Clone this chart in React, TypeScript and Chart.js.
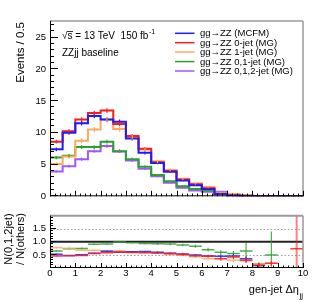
import { useEffect, useRef } from "react";
import { Chart, registerables } from "chart.js";

Chart.register(...registerables);

// ---------------- data ----------------
const binLow = [0, 0.5, 1, 1.5, 2, 2.5, 3, 3.5, 4, 4.5, 5, 5.5, 6, 6.5, 7, 7.5, 8, 8.5, 9, 9.5];
const binWidth = 0.5;
const xRange = [0, 10];
const topYMax = 27.6;
const topMajorTicks = [0, 5, 10, 15, 20, 25];
const ratioTicks = [0.5, 1, 1.5];
const xTickLabels = [0, 1, 2, 3, 4, 5, 6, 7, 8, 9, 10];

const seriesLabels = [
  "gg→ZZ (MCFM)",
  "gg→ZZ 0-jet (MG)",
  "gg→ZZ 1-jet (MG)",
  "gg→ZZ 0,1-jet (MG)",
  "gg→ZZ 0,1,2-jet (MG)",
];
const seriesColors = ["#1c1cff", "#ff1a1a", "#ffa860", "#2aa12a", "#a157ff"];

const mcfm = [7.4, 10.0, 11.5, 12.65, 12.1, 11.75, 9.1, 6.85, 5.25, 3.85, 2.5, 1.75, 1.15, 0.35, 0.12, 0.06, 0.03, 0.02, 0.01, 0.01];
const jet0 = [8.6, 10.25, 12.1, 13.1, 13.5, 11.4, 9.5, 7.5, 5.35, 4.0, 2.65, 1.9, 1.25, 0.4, 0.15, 0.08, 0.04, 0.02, 0.01, 0.01];
const jet1 = [5.1, 6.25, 8.75, 10.5, 12.1, 10.6, 9.3, 7.35, 5.5, 4.15, 2.75, 2.0, 1.45, 0.55, 0.35, 0.15, 0.06, 0.03, 0.01, 0.01];
const jet01 = [6.1, 6.4, 7.75, 7.75, 8.6, 7.1, 5.85, 4.65, 3.35, 2.35, 1.6, 1.15, 0.9, 0.45, 0.15, 0.08, 0.03, 0.02, 0.01, 0];
const jet012 = [3.9, 4.75, 5.85, 7.1, 7.9, 7.05, 5.65, 4.35, 3.15, 2.15, 1.35, 0.9, 0.7, 0.7, 0.1, 0.05, 0.02, 0.01, 0, 0];

const mcfmErr = [0.3, 0.3, 0.35, 0.35, 0.35, 0.35, 0.3, 0.25, 0.22, 0.2, 0.15, 0.12, 0.1, 0.06, 0.04, 0.03, 0.02, 0.01, 0.01, 0.01];
const jet0Err = [0.3, 0.3, 0.35, 0.35, 0.35, 0.35, 0.3, 0.25, 0.22, 0.2, 0.15, 0.12, 0.1, 0.06, 0.04, 0.03, 0.02, 0.01, 0.01, 0.01];
const jet1Err = [0.3, 0.3, 0.4, 0.4, 0.4, 0.4, 0.35, 0.3, 0.25, 0.22, 0.18, 0.15, 0.12, 0.08, 0.06, 0.04, 0.02, 0.01, 0.01, 0.01];
const jet01Err = [0.25, 0.25, 0.3, 0.3, 0.3, 0.3, 0.25, 0.22, 0.18, 0.15, 0.12, 0.1, 0.08, 0.06, 0.04, 0.03, 0.02, 0.01, 0.01, 0];
const jet012Err = [0.2, 0.22, 0.25, 0.25, 0.28, 0.25, 0.22, 0.2, 0.16, 0.14, 0.1, 0.08, 0.07, 0.06, 0.03, 0.02, 0.01, 0.01, 0, 0];

// ratio N(0,1,2jet) / N(others)
const ratioMcfm = [0.53, 0.48, 0.51, 0.56, 0.64, 0.6, 0.62, 0.63, 0.6, 0.56, 0.54, 0.5, 0.46, 0.45, 0.46, 0.35, 0.1, null, null, null];
const ratioJet0 = [0.46, 0.47, 0.48, 0.55, 0.58, 0.61, 0.59, 0.58, 0.57, 0.55, 0.52, 0.47, 0.45, 0.35, 0.42, 0.3, 0.1, 0.18, null, 0.74];
const ratioJet1 = [0.77, 0.76, 0.68, 0.68, 0.65, 0.66, 0.61, 0.59, 0.57, 0.52, 0.49, 0.43, 0.35, 0.36, 0.3, 0.28, 0.14, 0.18, null, null];
const ratioJet01 = [0.65, 0.74, 0.75, 0.91, 0.92, 0.99, 0.97, 0.94, 0.93, 0.92, 0.88, 0.83, 0.7, 0.6, 0.55, 0.65, 0.15, 0.5, null, null];

const ratioMcfmErr = [0.02, 0.02, 0.02, 0.02, 0.02, 0.02, 0.02, 0.02, 0.03, 0.03, 0.04, 0.04, 0.05, 0.06, 0.08, 0.1, 0.08, null, null, null];
const ratioJet0Err = [0.02, 0.02, 0.02, 0.02, 0.02, 0.02, 0.02, 0.02, 0.03, 0.03, 0.04, 0.04, 0.05, 0.06, 0.08, 0.1, 0.1, 0.1, null, 1.4];
const ratioJet1Err = [0.02, 0.02, 0.02, 0.02, 0.02, 0.02, 0.02, 0.02, 0.03, 0.03, 0.04, 0.04, 0.05, 0.06, 0.08, 0.1, 0.1, 0.12, null, null];
const ratioJet01Err = [0.03, 0.03, 0.03, 0.03, 0.03, 0.03, 0.03, 0.03, 0.04, 0.05, 0.05, 0.06, 0.07, 0.08, 0.1, 0.32, 0.06, 0.9, null, null];

// ---------------- helpers ----------------
const FONT = "'Liberation Sans', Arial, Helvetica, sans-serif";

function histPoints(values: number[]) {
  const pts = binLow.map((b, i) => ({ x: b, y: values[i] }));
  pts.push({ x: binLow[binLow.length - 1] + binWidth, y: values[values.length - 1] });
  return pts;
}

function ratioPoints(values: (number | null)[], errs: (number | null)[]) {
  const pts: any[] = [];
  binLow.forEach((b, i) => {
    if (values[i] !== null && values[i] !== undefined) {
      pts.push({ x: b + binWidth / 2, y: values[i], e: errs[i] ?? 0 });
    }
  });
  return pts;
}

function line(ctx: CanvasRenderingContext2D, x1: number, y1: number, x2: number, y2: number) {
  ctx.beginPath();
  ctx.moveTo(x1, y1);
  ctx.lineTo(x2, y2);
  ctx.stroke();
}

function drawXTicks(chart: any, major: number, minor: number) {
  const { ctx, chartArea } = chart;
  const xs = chart.scales.x;
  ctx.save();
  ctx.strokeStyle = "#000";
  ctx.lineWidth = 1;
  for (let k = 0; k <= 50; k++) {
    const v = xRange[0] + k * 0.2;
    const px = Math.round(xs.getPixelForValue(v)) + 0.5;
    const len = k % 5 === 0 ? major : minor;
    line(ctx, px, chartArea.bottom, px, chartArea.bottom - len);
  }
  ctx.restore();
}

// ---------------- plugins ----------------
const topPlugin = {
  id: "topDecor",
  afterDatasetsDraw(chart: any) {
    const { ctx, chartArea } = chart;
    const xs = chart.scales.x;
    const ys = chart.scales.y;
    ctx.save();
    ctx.beginPath();
    ctx.rect(chartArea.left, chartArea.top, chartArea.right - chartArea.left, chartArea.bottom - chartArea.top);
    ctx.clip();
    chart.data.datasets.forEach((ds: any) => {
      ctx.strokeStyle = ds.borderColor;
      ctx.lineWidth = 1.2;
      ds.errors.forEach((e: number, i: number) => {
        const v = ds.values[i];
        if (!e) return;
        const cx = xs.getPixelForValue(binLow[i] + binWidth / 2);
        line(ctx, cx, ys.getPixelForValue(v - e), cx, ys.getPixelForValue(v + e));
      });
    });
    ctx.restore();
  },
  afterDraw(chart: any) {
    const { ctx, chartArea } = chart;
    const ys = chart.scales.y;
    const { left, right, top, bottom } = chartArea;
    ctx.save();
    ctx.strokeStyle = "#9a9a9a";
    ctx.lineWidth = 1.5;
    line(ctx, left, top, right, top);
    line(ctx, right, top, right, bottom);
    ctx.strokeStyle = "#000";
    ctx.lineWidth = 1;
    line(ctx, left + 0.5, top, left + 0.5, bottom);
    line(ctx, left, bottom - 0.5, right, bottom - 0.5);
    for (let v = 0; v <= topYMax; v += 1) {
      const py = Math.round(ys.getPixelForValue(v)) - 0.5;
      const len = topMajorTicks.includes(v) ? 8 : 4;
      line(ctx, left, py, left + len, py);
    }
    ctx.restore();
    drawXTicks(chart, 5.5, 2.75);

    ctx.save();
    ctx.fillStyle = "#000";
    ctx.textBaseline = "alphabetic";
    ctx.textAlign = "left";
    ctx.font = `10px ${FONT}`;
    const t1 = "√s = 13 TeV  150 fb";
    ctx.fillText(t1, 62, 39);
    const w1 = ctx.measureText(t1).width;
    const wRoot = ctx.measureText("√").width;
    const wS = ctx.measureText("s").width;
    ctx.strokeStyle = "#000";
    ctx.lineWidth = 0.8;
    line(ctx, 62 + wRoot - 0.5, 31.5, 62 + wRoot + wS + 0.5, 31.5);
    ctx.font = `7px ${FONT}`;
    ctx.fillText("-1", 62 + w1 + 0.5, 34);
    ctx.font = `10px ${FONT}`;
    ctx.fillText("ZZjj baseline", 62, 56);

    ctx.save();
    ctx.font = `11.5px ${FONT}`;
    ctx.translate(21, 22);
    ctx.rotate(-Math.PI / 2);
    ctx.textAlign = "right";
    ctx.textBaseline = "middle";
    ctx.fillText("Events / 0.5", 0, 0);
    ctx.restore();

    ctx.font = `9.5px ${FONT}`;
    ctx.textBaseline = "middle";
    const rows = [33.3, 42.7, 52, 61.6, 71];
    chart.data.datasets.forEach((ds: any, i: number) => {
      ctx.strokeStyle = ds.borderColor;
      ctx.lineWidth = 1.5;
      line(ctx, 175, rows[i], 194.5, rows[i]);
      ctx.fillStyle = "#000";
      ctx.fillText(ds.label, 200, rows[i] + 0.5);
    });
    ctx.restore();
  },
};

const ratioPlugin = {
  id: "ratioDecor",
  beforeDatasetsDraw(chart: any) {
    const { ctx, chartArea } = chart;
    const ys = chart.scales.y;
    const { left, right } = chartArea;
    ctx.save();
    ctx.strokeStyle = "#a0a0a0";
    ctx.lineWidth = 1;
    ctx.setLineDash([1.5, 2]);
    [0.5, 1.5].forEach((v) => {
      const py = Math.round(ys.getPixelForValue(v)) + 0.5;
      line(ctx, left, py, right, py);
    });
    ctx.setLineDash([]);
    ctx.strokeStyle = "#222";
    ctx.lineWidth = 2;
    const p1 = ys.getPixelForValue(1);
    line(ctx, left, p1, right, p1);
    ctx.restore();
  },
  afterDatasetsDraw(chart: any) {
    const { ctx, chartArea } = chart;
    const xs = chart.scales.x;
    const ys = chart.scales.y;
    ctx.save();
    ctx.beginPath();
    ctx.rect(chartArea.left, chartArea.top, chartArea.right - chartArea.left, chartArea.bottom - chartArea.top);
    ctx.clip();
    const order = [3, 2, 0, 1];
    order.forEach((di) => {
      const ds: any = chart.data.datasets[di];
      ds.data.forEach((p: any) => {
        const cx = xs.getPixelForValue(p.x);
        const cy = ys.getPixelForValue(p.y);
        ctx.strokeStyle = ds.borderColor;
        ctx.globalAlpha = 0.85;
        ctx.lineWidth = 1.5;
        line(ctx, xs.getPixelForValue(p.x - binWidth / 2), cy, xs.getPixelForValue(p.x + binWidth / 2), cy);
        if (p.e) {
          ctx.globalAlpha = p.e > 1 ? 0.55 : 0.85;
          ctx.lineWidth = p.e > 1 ? 2 : 1.2;
          line(ctx, cx, ys.getPixelForValue(p.y - p.e), cx, ys.getPixelForValue(p.y + p.e));
        }
      });
    });
    ctx.restore();
  },
  afterDraw(chart: any) {
    const { ctx, chartArea } = chart;
    const ys = chart.scales.y;
    const { left, right, top, bottom } = chartArea;
    ctx.save();
    ctx.strokeStyle = "#9a9a9a";
    ctx.lineWidth = 2;
    line(ctx, left, top, right, top);
    ctx.lineWidth = 1.5;
    line(ctx, right, top, right, bottom);
    ctx.strokeStyle = "#000";
    ctx.lineWidth = 1;
    line(ctx, left + 0.5, top, left + 0.5, bottom);
    ctx.lineWidth = 1.2;
    line(ctx, left, bottom - 0.5, right, bottom - 0.5);
    ctx.lineWidth = 1;
    for (let k = 1; k < 20; k++) {
      const v = k * 0.1;
      const py = Math.round(ys.getPixelForValue(v)) - 0.5;
      const len = k % 5 === 0 ? 6 : 3;
      line(ctx, left, py, left + len, py);
    }
    ctx.restore();
    drawXTicks(chart, 5, 2.5);

    ctx.save();
    ctx.fillStyle = "#000";
    ctx.font = `11px ${FONT}`;
    ctx.textAlign = "center";
    ctx.textBaseline = "middle";
    [["N(0,1,2jet)", 9], ["/ N(others)", 21]].forEach(([t, x]) => {
      ctx.save();
      ctx.translate(x as number, 33);
      ctx.rotate(-Math.PI / 2);
      ctx.fillText(t as string, 0, 0);
      ctx.restore();
    });
    ctx.textBaseline = "alphabetic";
    ctx.textAlign = "left";
    ctx.font = `8px ${FONT}`;
    const wSub = ctx.measureText("jj").width;
    ctx.font = `11px ${FONT}`;
    const main = "gen-jet Δη";
    const wMain = ctx.measureText(main).width;
    const x0 = 303 - wSub - wMain - 0.5;
    ctx.fillText(main, x0, 87);
    ctx.font = `8px ${FONT}`;
    ctx.fillText("jj", x0 + wMain + 0.5, 91.5);
    ctx.restore();
  },
};

// ---------------- component ----------------
export default function App() {
  const topRef = useRef<HTMLCanvasElement>(null);
  const botRef = useRef<HTMLCanvasElement>(null);

  useEffect(() => {
    const topValues = [mcfm, jet0, jet1, jet01, jet012];
    const topErrs = [mcfmErr, jet0Err, jet1Err, jet01Err, jet012Err];
    const top = new Chart(topRef.current!, {
      type: "line",
      data: {
        datasets: topValues.map((vals, i) => ({
          label: seriesLabels[i],
          data: histPoints(vals),
          values: vals,
          errors: topErrs[i],
          borderColor: seriesColors[i],
          borderWidth: 2,
          stepped: "before",
          pointRadius: 0,
          fill: false,
        })) as any,
      },
      options: {
        animation: false,
        responsive: false,
        devicePixelRatio: 1,
        layout: { padding: { top: 21, right: 13, bottom: 1, left: 0 } },
        plugins: { legend: { display: false }, tooltip: { enabled: false } },
        scales: {
          x: { type: "linear", min: xRange[0], max: xRange[1], display: false },
          y: {
            type: "linear",
            min: 0,
            max: topYMax,
            afterFit: (s: any) => {
              s.width = 50;
            },
            afterBuildTicks: (s: any) => {
              s.ticks = topMajorTicks.map((v) => ({ value: v }));
            },
            grid: { display: false, drawTicks: false },
            border: { display: false },
            ticks: {
              includeBounds: false,
              padding: 4,
              color: "#000",
              font: { family: FONT, size: 9.5 },
            },
          },
        },
      },
      plugins: [topPlugin],
    } as any);

    const ratioVals = [ratioMcfm, ratioJet0, ratioJet1, ratioJet01];
    const ratioErrs = [ratioMcfmErr, ratioJet0Err, ratioJet1Err, ratioJet01Err];
    const bot = new Chart(botRef.current!, {
      type: "scatter",
      data: {
        datasets: ratioVals.map((vals, i) => ({
          label: seriesLabels[i],
          data: ratioPoints(vals, ratioErrs[i]),
          borderColor: seriesColors[i],
          backgroundColor: seriesColors[i],
          pointRadius: 0,
          showLine: false,
        })) as any,
      },
      options: {
        animation: false,
        responsive: false,
        devicePixelRatio: 1,
        layout: { padding: { top: 6, right: 13, bottom: 0, left: 0 } },
        plugins: { legend: { display: false }, tooltip: { enabled: false } },
        scales: {
          x: {
            type: "linear",
            min: xRange[0],
            max: xRange[1],
            afterFit: (s: any) => {
              s.height = 35;
            },
            afterBuildTicks: (s: any) => {
              s.ticks = xTickLabels.map((v) => ({ value: v }));
            },
            grid: { display: false, drawTicks: false },
            border: { display: false },
            ticks: {
              padding: 0,
              maxRotation: 0,
              autoSkip: false,
              color: "#000",
              font: { family: FONT, size: 9.5 },
            },
          },
          y: {
            type: "linear",
            min: 0,
            max: 2,
            afterFit: (s: any) => {
              s.width = 50;
            },
            afterBuildTicks: (s: any) => {
              s.ticks = ratioTicks.map((v) => ({ value: v }));
            },
            grid: { display: false, drawTicks: false },
            border: { display: false },
            ticks: {
              padding: 4,
              color: "#000",
              font: { family: FONT, size: 9.5 },
            },
          },
        },
      },
      plugins: [ratioPlugin],
    } as any);

    return () => {
      top.destroy();
      bot.destroy();
    };
  }, []);

  return (
    <div style={{ position: "fixed", left: 0, top: 0, width: 316, height: 303, background: "#fff" }}>
      <canvas ref={topRef} width={316} height={206} style={{ position: "absolute", left: 0, top: 0 }} />
      <canvas ref={botRef} width={316} height={97} style={{ position: "absolute", left: 0, top: 206 }} />
    </div>
  );
}
